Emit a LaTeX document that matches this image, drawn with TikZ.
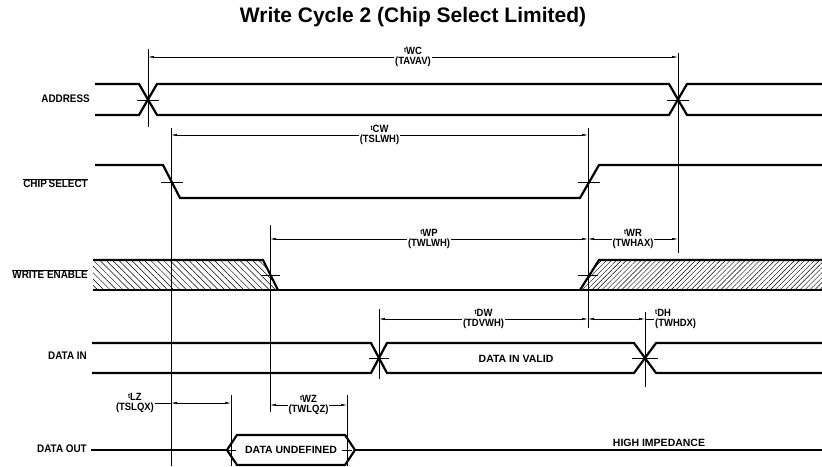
\documentclass[tikz,border=0pt]{standalone}
\usepackage{fontspec}
\setmainfont{Liberation Sans}[FakeStretch=0.9]
\newfontfamily\widefont{Liberation Sans}
\usetikzlibrary{arrows.meta,patterns.meta}

% timing parameter label: small raised t, then the long name below
\newcommand{\tname}[2]{\raisebox{2pt}{\fontsize{7}{7}\selectfont t}#1\\(#2)}

\begin{document}
\begin{tikzpicture}[x=1pt,y=-1pt,
    sig/.style={line width=2.2pt},
    guide/.style={line width=0.5pt},
    dim/.style={line width=0.5pt, {Latex[length=6pt,width=2.4pt]}-{Latex[length=6pt,width=2.4pt]}},
    sigl/.style={font=\bfseries\fontsize{11}{12}\selectfont, anchor=east, inner sep=0pt},
    tm/.style={font=\bfseries\fontsize{10.5}{9.5}\selectfont, align=center, fill=white, inner sep=1pt},
    inl/.style={font=\widefont\bfseries\fontsize{10.5}{11}\selectfont}]
    \useasboundingbox (0,0) rectangle (822,466);

    % Title
    \node[font=\widefont\bfseries\fontsize{21}{24}\selectfont] (title) at (413,17) {Write Cycle 2 (Chip Select Limited)};

    % Signal names
    \node[sigl] (addr) at (90,99) {ADDRESS};
    \node[sigl] (cs) at (88,183) {$\overline{\hbox{CHIP\,SELECT}}$};
    \node[sigl] (we) at (88,274) {$\overline{\hbox{WRITE ENABLE}}$};
    \node[sigl] (din) at (87,356) {DATA IN};
    \node[sigl] (dout) at (87,449) {DATA OUT};

    % Reference (timing) lines
    \draw[guide] (148,49) -- (148,127);
    \draw[guide] (678,53) -- (678,253);
    \draw[guide] (171,128) -- (171,466);
    \draw[guide] (588,128) -- (588,328);
    \draw[guide] (270,225) -- (270,412);
    \draw[guide] (379,309) -- (379,379);
    \draw[guide] (645,312) -- (645,387);
    \draw[guide] (231,395) -- (231,466);
    \draw[guide] (347,395) -- (347,466);

    % Address: two crossings
    \draw[sig] (95,84) -- (139,84) -- (157,115) -- (669,115) -- (687,84) -- (822,84);
    \draw[sig] (95,115) -- (139,115) -- (157,84) -- (669,84) -- (687,115) -- (822,115);
    \draw[guide] (137,100) -- (159,100);
    \draw[guide] (667,100) -- (689,100);

    % Chip select: falls, then rises
    \draw[sig] (95,165) -- (163,165) -- (180,198) -- (580,198) -- (599,165) -- (822,165);
    \draw[guide] (161,182) -- (183,182);
    \draw[guide] (578,182) -- (600,182);

    % Write enable: don't care before and after
    \fill[pattern={Lines[angle=-45,distance=4.5pt,line width=0.5pt]}] (93,260) -- (263,260) -- (278,290) -- (93,290) -- cycle;
    \fill[pattern={Lines[angle=45,distance=3.5pt,line width=0.4pt]}] (580,290) -- (599,260) -- (822,260) -- (822,290) -- cycle;
    \draw[sig] (93,260) -- (263,260) -- (278,290);
    \draw[sig] (93,290) -- (822,290);
    \draw[sig] (580,290) -- (599,260) -- (822,260);
    \draw[guide] (262,275) -- (280,275);
    \draw[guide] (578,275) -- (598,275);

    % Data in
    \draw[sig] (92,343) -- (371,343) -- (387,373) -- (634,373) -- (656,343) -- (822,343);
    \draw[sig] (92,373) -- (371,373) -- (387,343) -- (634,343) -- (656,373) -- (822,373);
    \draw[guide] (369,358) -- (389,358);
    \draw[guide] (632,358) -- (658,358);
    \node[inl] (valid) at (516,359) {DATA IN VALID};

    % Data out
    \draw[sig] (91,450) -- (227,450);
    \draw[sig] (227,450) -- (237,435) -- (345,435) -- (355,450) -- (345,465) -- (237,465) -- cycle;
    \draw[sig] (355,450) -- (822,450);
    \draw[guide] (226,450) -- (236,450);
    \draw[guide] (342,450) -- (352,450);
    \node[inl] (undef) at (291,450) {DATA UNDEFINED};
    \node[inl] (hiz) at (659,443) {HIGH IMPEDANCE};

    % Timing arrows
    \coordinate (wcA) at (148,57);  \coordinate (wcB) at (678,57);
    \coordinate (cwA) at (171,135); \coordinate (cwB) at (588,135);
    \coordinate (wpA) at (270,239); \coordinate (wpB) at (588,239);
    \coordinate (wrA) at (588,239); \coordinate (wrB) at (678,239);
    \coordinate (dwA) at (379,319); \coordinate (dwB) at (588,319);
    \coordinate (dhA) at (588,319); \coordinate (dhB) at (645,319);
    \coordinate (lzA) at (171,403); \coordinate (lzB) at (231,403);
    \coordinate (wzA) at (270,405); \coordinate (wzB) at (347,405);

    \draw[dim] (wcA) -- node[tm] (twc) {\tname{WC}{TAVAV}} (wcB);
    \draw[dim] (cwA) -- node[tm] (tcw) {\tname{CW}{TSLWH}} (cwB);
    \draw[dim] (wpA) -- node[tm] (twp) {\tname{WP}{TWLWH}} (wpB);
    \draw[dim] (wrA) -- node[tm] (twr) {\tname{WR}{TWHAX}} (wrB);
    \draw[dim] (dwA) -- node[tm] (tdw) {\tname{DW}{TDVWH}} (dwB);
    \draw[dim] (dhA) -- (dhB);
    \draw[dim] (lzA) -- (lzB);
    \draw[dim] (wzA) -- node[tm] (twz) {\tname{WZ}{TWLQZ}} (wzB);

    % labels set outside their arrows
    \node[tm, anchor=west, align=left] (tdh) at (654,319) {\tname{DH}{TWHDX}};
    \draw[guide] (dhB) -- (tdh.west);
    \node[tm, anchor=east] (tlz) at (155,403) {\tname{LZ}{TSLQX}};
    \draw[guide] (tlz.east) -- (lzA);

\end{tikzpicture}
\end{document}
